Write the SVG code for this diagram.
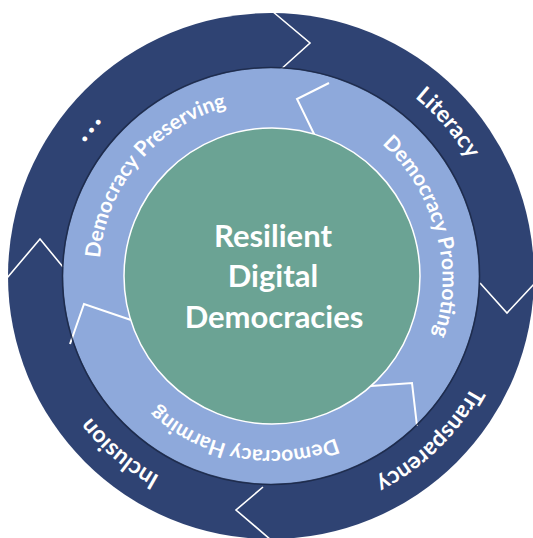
<svg xmlns="http://www.w3.org/2000/svg" width="533" height="538" viewBox="0 0 533 538">
  <style>
    .ring-outer { fill: #2F4373; }
    .ring-mid { fill: #8EA9DB; }
    .core { fill: #6BA394; stroke: #FFFFFF; stroke-width: 1.5; }
    .edge { fill: none; stroke: #1B2846; stroke-width: 1.6; opacity: 0.85; }
    .sep { fill: none; stroke: #FFFFFF; stroke-width: 1.6; stroke-linejoin: miter; }
    .sep-mid { fill: none; stroke: #FFFFFF; stroke-width: 2; stroke-linejoin: miter; }
    .lbl { fill: #FFFFFF; font-family: Lato, "Liberation Sans", sans-serif; font-weight: bold; text-anchor: middle; }
    .lbl-outer { font-size: 23px; }
    .lbl-dots { font-size: 32px; }
    .lbl-mid { font-size: 21px; }
    .lbl-core { font-size: 31px; }
  </style>
  <defs>
    <!-- clockwise circles through (271,276), starting at 160 degrees -->
    <path id="arcOuter" d="M 55.8 354.3 A 229 229 0 1 1 486.2 197.7 A 229 229 0 1 1 55.8 354.3"/>
    <path id="arcMid" d="M 111.3 334.1 A 170 170 0 1 1 430.7 217.9 A 170 170 0 1 1 111.3 334.1"/>
  </defs>

  <!-- outer cycle -->
  <g id="outer-cycle">
    <circle class="ring-outer" cx="271" cy="276" r="263"/>
  </g>

  <g id="connectors">
    <!-- joints of the outer cycle -->
    <polyline class="sep" points="272,11 310,43 279,71"/>
    <polyline class="sep" points="480,283 507,313 534,284"/>
    <polyline class="sep" points="263,487 236,510 271,540"/>
    <polyline class="sep" points="7,278 40,239 63,267"/>
  </g>

  <!-- middle cycle -->
  <g id="middle-cycle">
    <circle class="ring-mid" cx="271" cy="276" r="208"/>
  </g>

  <g id="connectors-inner">
    <polyline class="sep-mid" points="329,83 297,99 315,136"/>
    <polyline class="sep-mid" points="70,344 84,304 131,320"/>
    <polyline class="sep-mid" points="371,386 412,383 417,426"/>
    <circle class="edge" cx="271" cy="276" r="208.5"/>
  </g>

  <!-- core -->
  <g id="core">
    <circle class="core" cx="272" cy="276" r="148"/>
    <text class="lbl lbl-core" x="273" y="247">Resilient</text>
    <text class="lbl lbl-core" x="273" y="287">Digital</text>
    <text class="lbl lbl-core" x="274" y="328">Democracies</text>
  </g>

  <!-- outer cycle labels -->
  <g id="label-more">
    <text class="lbl lbl-dots" letter-spacing="3"><textPath href="#arcOuter" startOffset="16.5%">...</textPath></text>
  </g>
  <g id="label-literacy">
    <text class="lbl lbl-outer"><textPath href="#arcOuter" startOffset="44.2%">Literacy</textPath></text>
  </g>
  <g id="label-transparency">
    <text class="lbl lbl-outer"><textPath href="#arcOuter" startOffset="68.3%">Transparency</textPath></text>
  </g>
  <g id="label-inclusion">
    <text class="lbl lbl-outer"><textPath href="#arcOuter" startOffset="91.8%">Inclusion</textPath></text>
  </g>

  <!-- middle cycle labels -->
  <g id="label-preserving">
    <text class="lbl lbl-mid"><textPath href="#arcMid" startOffset="16.8%">Democracy Preserving</textPath></text>
  </g>
  <g id="label-promoting">
    <text class="lbl lbl-mid"><textPath href="#arcMid" startOffset="51.4%">Democracy Promoting</textPath></text>
  </g>
  <g id="label-harming">
    <text class="lbl lbl-mid"><textPath href="#arcMid" startOffset="83.3%">Democracy Harming</textPath></text>
  </g>
</svg>
